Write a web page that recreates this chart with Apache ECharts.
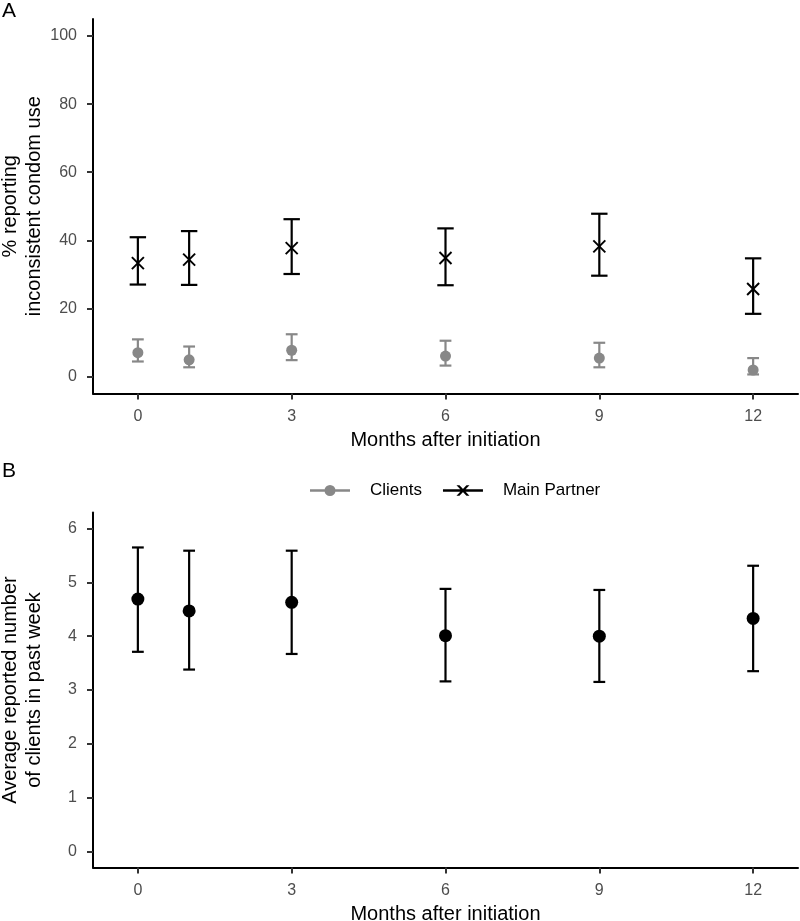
<!DOCTYPE html>
<html><head><meta charset="utf-8">
<script src="https://cdn.jsdelivr.net/npm/echarts@6/dist/echarts.min.js"></script>
<style>html,body{margin:0;padding:0;background:#fff}#c{width:800px;height:921px}</style>
</head><body><div id="c"></div>
<script>
// ---- data ----
const months = [0, 1, 3, 6, 9, 12];
const xTicks = [0, 3, 6, 9, 12];
const yTicksA = [0, 20, 40, 60, 80, 100];
const yTicksB = [0, 1, 2, 3, 4, 5, 6];
const partnerMean = [33.3, 34.3, 37.7, 34.8, 38.2, 25.7];
const partnerLow  = [27.0, 26.9, 30.1, 26.8, 29.6, 18.4];
const partnerHigh = [40.9, 42.7, 46.2, 43.5, 47.8, 34.7];
const clientsMean = [7.0, 4.9, 7.7, 6.0, 5.4, 1.9];
const clientsLow  = [4.4, 2.7, 4.8, 3.2, 2.7, 0.6];
const clientsHigh = [10.9, 8.8, 12.4, 10.5, 9.9, 5.4];
const numMean = [4.69, 4.47, 4.63, 4.01, 4.00, 4.33];
const numLow  = [3.71, 3.38, 3.67, 3.16, 3.15, 3.35];
const numHigh = [5.65, 5.59, 5.59, 4.88, 4.86, 5.31];

// ---- styles ----
const FONT = 'Liberation Sans, Arial, sans-serif';
const GRAY = '#888888';
const BLACK = '#000000';

function rows(mean, low, high) { return months.map((m, i) => [m, mean[i], low[i], high[i]]); }

function errRender(capHalf, color, marker, msize) {
  return function (params, api) {
    const x = api.value(0), m = api.value(1), lo = api.value(2), hi = api.value(3);
    const pLo = api.coord([x, lo]), pHi = api.coord([x, hi]), pM = api.coord([x, m]);
    const l = api.coord([x - capHalf, lo])[0], r = api.coord([x + capHalf, lo])[0];
    const st = { stroke: color, lineWidth: 2.2, fill: null };
    const children = [
      { type: 'line', shape: { x1: pLo[0], y1: pLo[1], x2: pHi[0], y2: pHi[1] }, style: st },
      { type: 'line', shape: { x1: l, y1: pLo[1], x2: r, y2: pLo[1] }, style: st },
      { type: 'line', shape: { x1: l, y1: pHi[1], x2: r, y2: pHi[1] }, style: st }
    ];
    if (marker === 'circle') {
      children.push({ type: 'circle', shape: { cx: pM[0], cy: pM[1], r: msize }, style: { fill: color } });
    } else {
      const h = msize;
      const xs = { stroke: color, lineWidth: 1.9, fill: null };
      children.push(
        { type: 'line', shape: { x1: pM[0] - h, y1: pM[1] - h, x2: pM[0] + h, y2: pM[1] + h }, style: xs },
        { type: 'line', shape: { x1: pM[0] - h, y1: pM[1] + h, x2: pM[0] + h, y2: pM[1] - h }, style: xs }
      );
    }
    return { type: 'group', children };
  };
}

function xAxis(gridIndex) {
  return {
    type: 'value', gridIndex, min: -0.875, max: 12.875,
    axisLine: { show: true, onZero: false, lineStyle: { color: '#000', width: 2 } },
    axisTick: { show: true, customValues: xTicks, length: 6, lineStyle: { color: '#333', width: 2 } },
    axisLabel: { customValues: xTicks, margin: 15, fontSize: 16, color: '#4d4d4d', fontFamily: FONT },
    splitLine: { show: false },
    name: 'Months after initiation', nameLocation: 'middle', nameGap: 37, nameMoveOverlap: false,
    nameTextStyle: { fontSize: 20, color: '#000', fontFamily: FONT }
  };
}
function yAxis(gridIndex, min, max, ticks, name) {
  return {
    type: 'value', gridIndex, min, max,
    axisLine: { show: true, onZero: false, lineStyle: { color: '#000', width: 2 } },
    axisTick: { show: true, customValues: ticks, length: 6, lineStyle: { color: '#333', width: 2 } },
    axisLabel: { customValues: ticks, margin: 16, fontSize: 16, color: '#4d4d4d', fontFamily: FONT },
    splitLine: { show: false },
    name, nameLocation: 'middle', nameGap: 47, nameMoveOverlap: false,
    nameTextStyle: { fontSize: 20, color: '#000', fontFamily: FONT, lineHeight: 24 }
  };
}

const clientsIcon = 'path://M0,4h40v2.4h-40z M14.5,5.2a5.5,5.5 0 1,1 11,0a5.5,5.5 0 1,1 -11,0z';
const partnerIcon = 'path://M0,4h40v2.4h-40z M13.5,0L16.5,0L26.5,10.4L23.5,10.4z M23.5,0L26.5,0L16.5,10.4L13.5,10.4z';

const chart = echarts.init(document.getElementById('c'), null, { renderer: 'canvas' });
chart.setOption({
  animation: false,
  backgroundColor: '#fff',
  title: [
    { text: 'A', left: 2, top: 1, padding: 0, textStyle: { fontSize: 21, fontWeight: 'normal', color: '#000', fontFamily: FONT } },
    { text: 'B', left: 2, top: 461, padding: 0, textStyle: { fontSize: 21, fontWeight: 'normal', color: '#000', fontFamily: FONT } }
  ],
  legend: {
    left: 310, top: 482, itemWidth: 40, itemHeight: 11, itemGap: 21, padding: 0,
    textStyle: { fontSize: 17, color: '#000', fontFamily: FONT, padding: [0, 0, 0, 15] },
    data: [
      { name: 'Clients', icon: clientsIcon, itemStyle: { color: GRAY } },
      { name: 'Main Partner', icon: partnerIcon, itemStyle: { color: BLACK } }
    ],
    selectedMode: false
  },
  grid: [
    { left: 93, right: 2, top: 19, height: 374.5, outerBoundsMode: 'none', containLabel: false },
    { left: 93, right: 2, top: 512.5, height: 355, outerBoundsMode: 'none', containLabel: false }
  ],
  xAxis: [xAxis(0), xAxis(1)],
  yAxis: [
    yAxis(0, -5, 105, yTicksA, '% reporting\ninconsistent condom use'),
    yAxis(1, -0.3, 6.3, yTicksB, 'Average reported number\nof clients in past week')
  ],
  series: [
    { name: 'Clients', type: 'custom', xAxisIndex: 0, yAxisIndex: 0, itemStyle: { color: GRAY },
      encode: { x: 0, y: [1, 2, 3] }, data: rows(clientsMean, clientsLow, clientsHigh),
      renderItem: errRender(0.115, GRAY, 'circle', 5.5) },
    { name: 'Main Partner', type: 'custom', xAxisIndex: 0, yAxisIndex: 0, itemStyle: { color: BLACK },
      encode: { x: 0, y: [1, 2, 3] }, data: rows(partnerMean, partnerLow, partnerHigh),
      renderItem: errRender(0.16, BLACK, 'x', 6) },
    { name: 'Number of clients', type: 'custom', xAxisIndex: 1, yAxisIndex: 1, itemStyle: { color: BLACK },
      encode: { x: 0, y: [1, 2, 3] }, data: rows(numMean, numLow, numHigh),
      renderItem: errRender(0.115, BLACK, 'circle', 6.5) }
  ]
});
</script>
</body></html>
